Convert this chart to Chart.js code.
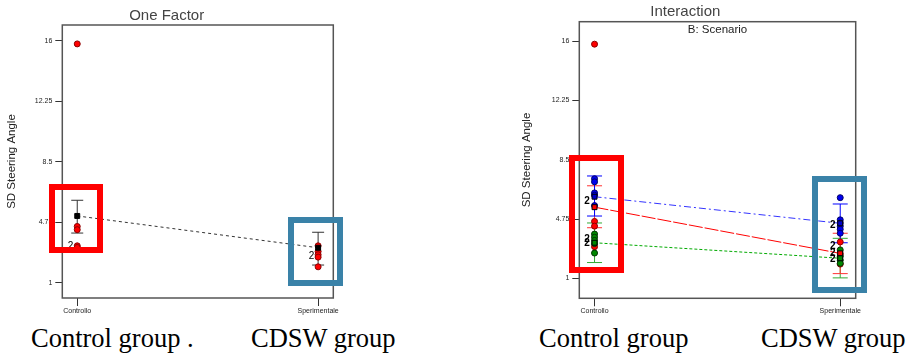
<!DOCTYPE html>
<html>
<head>
<meta charset="utf-8">
<script src="https://cdn.jsdelivr.net/npm/chart.js@4.4.0/dist/chart.umd.min.js"></script>
<style>
  body { margin:0; background:#fff; width:912px; height:356px; overflow:hidden; position:relative; }
  .wrap { position:absolute; top:0; width:360px; height:320px; }
  .box { position:absolute; box-sizing:border-box; border:6px solid; }
  .caption { position:absolute; font-family:"Liberation Serif", "Times New Roman", serif; font-size:26.5px; line-height:26.5px; color:#000; white-space:nowrap; }
</style>
</head>
<body>
<div class="wrap" style="left:0"><canvas id="oneFactor"></canvas></div>
<div class="wrap" style="left:515px"><canvas id="interaction"></canvas></div>

<div class="box" style="left:49px;top:184px;width:54px;height:69px;border-color:#ff0000"></div>
<div class="box" style="left:288px;top:217px;width:55px;height:69px;border-color:#3a82a8"></div>
<div class="box" style="left:569px;top:155px;width:55px;height:118px;border-color:#ff0000"></div>
<div class="box" style="left:812px;top:176px;width:55px;height:117px;border-color:#3a82a8"></div>

<div class="caption" style="left:31px;top:325px">Control group .</div>
<div class="caption" style="left:251px;top:325px">CDSW group</div>
<div class="caption" style="left:539px;top:325px">Control group</div>
<div class="caption" style="left:761px;top:325px">CDSW group</div>

<script>
// categorie e tick
const categories = ['Controllo', 'Sperimentale'];
const yTickValues = [1, 4.75, 8.5, 12.25, 16];
const yTickLabels = ['1', '4.75', '8.5', '12.25', '16'];

// One Factor
const ofCtrlPoints = [15.8, 4.5, 4.3, 3.3, 3.2];
const ofSperPoints = [3.3, 2.95, 2.75, 2.6, 2.0];
const ofMeans = [5.15, 3.18];
const ofLow = [4.09, 2.11];
const ofHigh = [6.12, 4.14];
const ofCountX = [0, 1];
const ofCountY = [3.3, 2.65];
const ofCountText = ['2', '2'];

// Interaction (B: Scenario)
const redCtrlPoints = [15.8, 4.6, 4.3, 3.0];
const redSperPoints = [3.3, 2.55, 1.9];
const redMeans = [5.5, 2.58];
const redLow = [4.2, 1.3];
const redHigh = [6.85, 3.85];

const blueCtrlPoints = [7.3, 7.1, 6.4, 6.25, 5.6];
const blueSperPoints = [6.1, 4.7, 4.5, 4.3, 4.1, 3.85];
const blueMeans = [6.16, 4.48];
const blueLow = [4.94, 3.25];
const blueHigh = [7.47, 5.7];

const greenCtrlPoints = [3.8, 3.6, 3.4, 3.2, 2.6];
const greenSperPoints = [2.8, 2.4, 2.15, 1.95];
const greenMeans = [3.25, 2.27];
const greenLow = [2.0, 1.03];
const greenHigh = [4.5, 3.53];

const intCountX = [0, 0, 0, 1, 1, 1, 1];
const intCountY = [5.85, 3.5, 3.2, 4.35, 3.05, 2.6, 2.2];
const intCountText = ['2', '2', '2', '2', '2', '2', '2'];

Chart.defaults.font.family = '"Liberation Sans", Arial, sans-serif';
Chart.defaults.color = '#222';

function pts(ctrl, sper) {
  return ctrl.map(v => ({ x: 0, y: v })).concat(sper.map(v => ({ x: 1, y: v })));
}
function meanPts(m) {
  return m.map((v, i) => ({ x: i, y: v }));
}

// cornice del grafico
const framePlugin = {
  id: 'frame',
  beforeDatasetsDraw(chart) {
    const { ctx, chartArea: a } = chart;
    ctx.save();
    ctx.strokeStyle = '#555';
    ctx.lineWidth = 1.5;
    ctx.strokeRect(a.left, a.top, a.right - a.left, a.bottom - a.top);
    ctx.restore();
  }
};

// barre di errore (LSD)
const errorBarPlugin = {
  id: 'errBars',
  beforeDatasetsDraw(chart) {
    const { ctx, scales } = chart;
    chart.data.datasets.forEach(ds => {
      if (!ds.errLow) return;
      ctx.save();
      ctx.strokeStyle = ds.errColor;
      ctx.lineWidth = 1;
      ds.errLow.forEach((lo, i) => {
        const x = scales.x.getPixelForValue(i);
        const y1 = scales.y.getPixelForValue(lo);
        const y2 = scales.y.getPixelForValue(ds.errHigh[i]);
        const w = ds.capWidth / 2;
        ctx.beginPath();
        ctx.moveTo(x, y1); ctx.lineTo(x, y2);
        ctx.moveTo(x - w, y1); ctx.lineTo(x + w, y1);
        ctx.moveTo(x - w, y2); ctx.lineTo(x + w, y2);
        ctx.stroke();
      });
      ctx.restore();
    });
  }
};

// etichette di conteggio punti sovrapposti
const countPlugin = {
  id: 'counts',
  afterDatasetsDraw(chart, args, opts) {
    if (!opts.xs) return;
    const { ctx, scales } = chart;
    ctx.save();
    ctx.fillStyle = '#000';
    ctx.font = opts.font;
    ctx.textAlign = 'center';
    ctx.textBaseline = 'middle';
    opts.xs.forEach((xv, i) => {
      ctx.fillText(opts.texts[i], scales.x.getPixelForValue(xv) - opts.offset, scales.y.getPixelForValue(opts.ys[i]));
    });
    ctx.restore();
  }
};

const innerTitlePlugin = {
  id: 'innerTitle',
  afterDraw(chart, args, opts) {
    if (!opts.text) return;
    const { ctx, chartArea: a } = chart;
    ctx.save();
    ctx.fillStyle = '#222';
    ctx.font = '11.5px "Liberation Sans", Arial, sans-serif';
    ctx.textAlign = 'center';
    ctx.textBaseline = 'middle';
    ctx.fillText(opts.text, (a.left + a.right) / 2, a.top + 8.5);
    ctx.restore();
  }
};

function makeScales(yMin, yMax, yWidth, xHeight) {
  return {
    x: {
      type: 'linear', min: -0.062, max: 1.063,
      afterBuildTicks: a => { a.ticks = categories.map((c, i) => ({ value: i })); },
      afterFit: s => { s.height = xHeight; },
      ticks: { callback: v => categories[v], font: { size: 7 }, color: '#222', padding: 1, maxRotation: 0, autoSkip: false },
      grid: { drawOnChartArea: false, drawTicks: true, tickLength: 8, color: '#333' },
      border: { display: false }
    },
    y: {
      min: yMin, max: yMax,
      afterBuildTicks: a => { a.ticks = yTickValues.map(v => ({ value: v })); },
      afterFit: s => { s.width = yWidth; },
      ticks: { callback: (v, i) => yTickLabels[i], font: { size: 7 }, color: '#222', padding: 3 },
      grid: { drawOnChartArea: false, drawTicks: true, tickLength: 7, color: '#333' },
      border: { display: false },
      title: { display: true, text: 'SD Steering Angle', font: { size: 11.5 }, color: '#222', padding: { top: 5, bottom: 0 } }
    }
  };
}

function pointSet(data, fill, border) {
  return { type: 'scatter', data: data, pointStyle: 'circle', pointRadius: 3, pointBackgroundColor: fill, pointBorderColor: border, pointBorderWidth: 1, showLine: false };
}
function meanSet(data, color, dash, fill, low, high, errColor, cap) {
  return {
    type: 'line', data: data, borderColor: color, borderWidth: 1, borderDash: dash,
    pointStyle: 'rect', pointRadius: 3.5, pointBackgroundColor: fill, pointBorderColor: '#000', pointBorderWidth: 1,
    errLow: low, errHigh: high, errColor: errColor, capWidth: cap
  };
}

// One Factor
new Chart(document.getElementById('oneFactor'), {
  type: 'scatter',
  data: {
    datasets: [
      meanSet(meanPts(ofMeans), '#333', [3, 3], '#000', ofLow, ofHigh, '#333', 12),
      pointSet(pts(ofCtrlPoints, ofSperPoints), '#ff0000', '#8b0000')
    ]
  },
  options: {
    responsive: true, maintainAspectRatio: false, animation: false,
    layout: { padding: { left: 0, right: 26.7, top: 0, bottom: 0 } },
    scales: makeScales(0.07, 16.97, 62.3, 22),
    plugins: {
      legend: { display: false }, tooltip: { enabled: false },
      title: { display: true, text: 'One Factor', font: { size: 15, weight: 'normal' }, color: '#444', padding: { top: 7, bottom: 0 } },
      counts: { xs: ofCountX, ys: ofCountY, texts: ofCountText, offset: 6.6, font: '10px "Liberation Sans", Arial, sans-serif' }
    }
  },
  plugins: [framePlugin, errorBarPlugin, countPlugin]
});

// Interaction
new Chart(document.getElementById('interaction'), {
  type: 'scatter',
  data: {
    datasets: [
      meanSet(meanPts(greenMeans), '#00aa00', [3, 2], '#008800', greenLow, greenHigh, '#33aa33', 15),
      meanSet(meanPts(redMeans), '#ff0000', [14, 2], '#ff0000', redLow, redHigh, '#ff3333', 15),
      meanSet(meanPts(blueMeans), '#3333ff', [7, 3, 2, 3], '#0000cc', blueLow, blueHigh, '#0000ff', 15),
      pointSet(pts(greenCtrlPoints, greenSperPoints), '#008800', '#003300'),
      pointSet(pts(redCtrlPoints, redSperPoints), '#ff0000', '#8b0000'),
      pointSet(pts(blueCtrlPoints, blueSperPoints), '#0000ee', '#000066')
    ]
  },
  options: {
    responsive: true, maintainAspectRatio: false, animation: false,
    layout: { padding: { left: 0, right: 19.3, top: 0, bottom: 0 } },
    scales: makeScales(-0.26, 17.22, 64.3, 21.7),
    plugins: {
      legend: { display: false }, tooltip: { enabled: false },
      title: { display: true, text: 'Interaction', font: { size: 15, weight: 'normal' }, color: '#444', padding: { top: 3, bottom: 0.7 } },
      innerTitle: { text: 'B: Scenario' },
      counts: { xs: intCountX, ys: intCountY, texts: intCountText, offset: 7.5, font: 'bold 10px "Liberation Sans", Arial, sans-serif' }
    }
  },
  plugins: [framePlugin, errorBarPlugin, countPlugin, innerTitlePlugin]
});
</script>
</body>
</html>
